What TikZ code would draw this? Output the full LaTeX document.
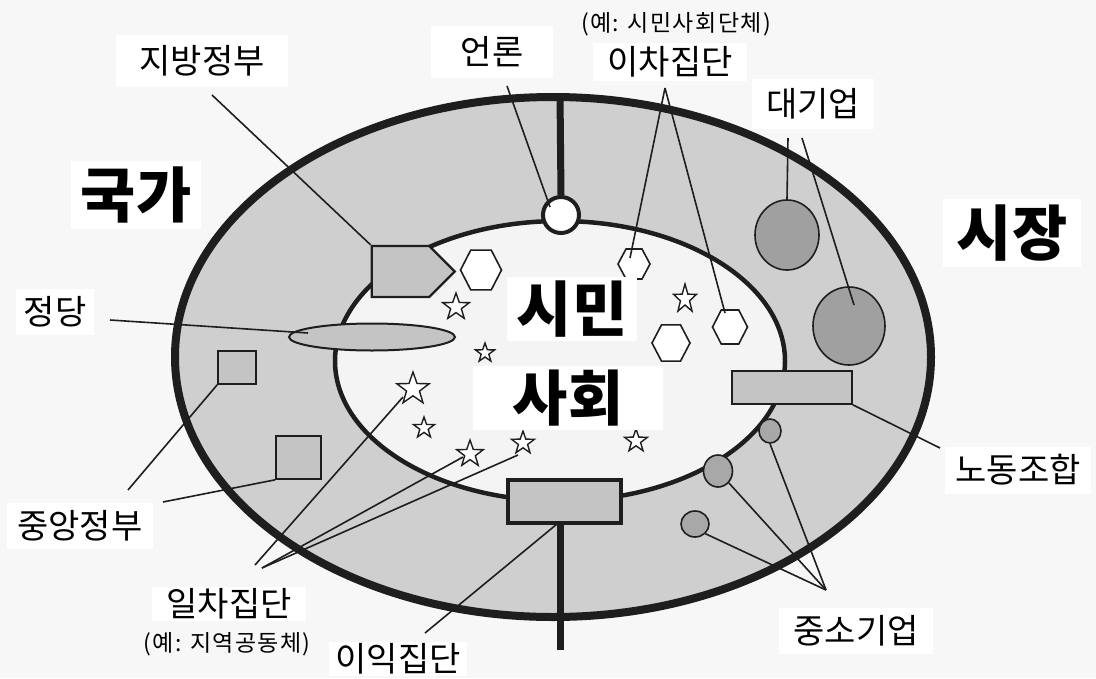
\documentclass[tikz,border=0pt]{standalone}
\usepackage{fontspec}
\newfontfamily\kr{Noto Sans CJK KR}
\newfontfamily\krs{Noto Sans CJK KR}[LetterSpace=6]
\usetikzlibrary{shapes.geometric,shapes.symbols}
\definecolor{bgc}{RGB}{247,247,247}
\definecolor{ringc}{RGB}{207,207,207}
\definecolor{innerc}{RGB}{244,244,244}
\definecolor{shapec}{RGB}{196,196,196}
\definecolor{darkc}{RGB}{160,160,160}
\definecolor{midc}{RGB}{168,168,168}
\definecolor{inkc}{RGB}{30,30,30}
\begin{document}
\begin{tikzpicture}[x=1pt,y=-1pt,
  lbl/.style={fill=white, text=black, font=\kr\fontsize{34}{34}\selectfont, inner xsep=14pt, inner ysep=8pt},
  smalltxt/.style={text=black, font=\krs\fontsize{23}{23}\selectfont, inner sep=1pt},
  biglbl/.style={fill=white, text=black, font=\kr\bfseries\fontsize{60}{60}\selectfont, inner xsep=10pt, inner ysep=6pt},
  conn/.style={line width=1.6pt, draw=inkc},
  hexa/.style={regular polygon, regular polygon sides=6, draw=inkc, line width=1.6pt, fill=white, inner sep=0pt},
  starn/.style={star, star points=5, star point ratio=2.5, draw=inkc, line width=1.4pt, fill=white, inner sep=0pt},
  gshape/.style={draw=inkc, fill=shapec, line width=1.6pt, inner sep=0pt},
  dcirc/.style={circle, draw=inkc, fill=darkc, line width=1.6pt, inner sep=0pt},
  scirc/.style={circle, draw=inkc, fill=midc, line width=1.6pt, inner sep=0pt},
]
\fill[bgc] (0,0) rectangle (1096,678);
\useasboundingbox (0,0) rectangle (1096,678);

% ring and inner area
\fill[ringc] (553,357) ellipse [x radius=378pt, y radius=260pt];
\fill[innerc] (560,361) ellipse [x radius=225pt, y radius=140pt];
\draw[inkc, line width=4.5pt] (560,361) ellipse [x radius=225pt, y radius=140pt];
\draw[inkc, line width=8pt] (553,357) ellipse [x radius=378pt, y radius=260pt];

% vertical thick lines
\coordinate (topend) at (560,94);
\coordinate (botend) at (560,650);
\node[circle, draw=inkc, fill=white, line width=4pt, minimum size=36pt, inner sep=0pt] (eonron) at (561,215) {};
\draw[inkc, line width=7pt] (topend) -- (eonron.north);
\node[gshape, rectangle, line width=4pt, minimum width=113pt, minimum height=43pt] (iik) at (564.5,501.5) {};
\draw[inkc, line width=7pt] (botend |- iik.south) -- (botend);

% state shapes
\node[gshape, signal, signal to=east, minimum width=83pt, minimum height=51pt, line width=2.4pt] (jibang) at (400.5,271.5) {};
\node[gshape, ellipse, minimum width=166pt, minimum height=27pt, line width=2pt] (jeongdang) at (372,337) {};
\node[gshape, rectangle, minimum width=38pt, minimum height=33pt] (sq1) at (237,367.5) {};
\node[gshape, rectangle, minimum width=45pt, minimum height=43pt] (sq2) at (298.5,457.5) {};

% market shapes
\node[dcirc, ellipse, minimum width=64pt, minimum height=70pt] (dae1) at (787,235) {};
\node[dcirc, ellipse, minimum width=72pt, minimum height=78pt] (dae2) at (849,326) {};
\node[gshape, rectangle, minimum width=120pt, minimum height=33pt] (nodong) at (792,387.5) {};
\node[scirc, ellipse, minimum width=22pt, minimum height=24pt] (jc1) at (770,431) {};
\node[scirc, ellipse, minimum width=29pt, minimum height=32pt] (jc2) at (718,471) {};
\node[scirc, ellipse, minimum width=28pt, minimum height=26pt] (jc3) at (695,524) {};

% hexagons
\node[hexa, minimum size=41pt, yscale=1.12] (h1) at (481,270) {};
\node[hexa, minimum size=32pt, yscale=1.08] (h2) at (634,264) {};
\node[hexa, minimum size=38pt, yscale=1.1] (h3) at (671,343) {};
\node[hexa, minimum size=35pt, yscale=1.12] (h4) at (730,327) {};

% stars
\node[starn, minimum size=28pt] (s1) at (456,307) {};
\node[starn, minimum size=20pt] (s2) at (485,353) {};
\node[starn, minimum size=24pt, yscale=1.25] (s3) at (685,299) {};
\node[starn, minimum size=34pt] (s4) at (413,389) {};
\node[starn, minimum size=22pt] (s5) at (424,428) {};
\node[starn, minimum size=28pt] (s6) at (470,454) {};
\node[starn, minimum size=24pt] (s7) at (523,443) {};
\node[starn, minimum size=24pt] (s8) at (636,441) {};

% labels
\node[lbl, inner xsep=23pt, inner ysep=11pt] (Ljibang) at (202,61) {지방정부};
\node[lbl, inner xsep=30pt, inner ysep=11pt] (Leonron) at (492,52) {언론};
\node[smalltxt] (Lex2) at (676,24) {(예: 시민사회단체)};
\node[lbl, inner ysep=4pt] (Licha) at (670,62) {이차집단};
\node[lbl, inner ysep=10pt] (Ldae) at (813,104) {대기업};
\node[biglbl] (Lgukga) at (136,195) {국가};
\node[biglbl, inner xsep=14pt] (Lsijang) at (1012,233) {시장};
\node[lbl, inner xsep=8pt] (Ljeongdang) at (55,312) {정당};
\node[lbl, inner xsep=10pt] (Lnodong) at (1018,470) {노동조합};
\node[lbl, inner xsep=10pt] (Ljungang) at (80,526) {중앙정부};
\node[lbl, inner ysep=2pt] (Lilcha) at (229,604) {일차집단};
\node[lbl, inner xsep=6pt, inner ysep=2pt] (Liik) at (398,659) {이익집단};
\node[smalltxt] (Lex1) at (227,644) {(예: 지역공동체)};
\node[lbl] (Ljungso) at (856,631) {중소기업};
\node[biglbl, inner ysep=4pt] (Lsimin) at (572,309) {시민};
\node[biglbl, inner xsep=40pt, inner ysep=4pt] (Lsahoe) at (568,398) {사회};

% connectors
\coordinate (cJb) at (212,95);
\draw[conn] (cJb) -- (jibang.north west);
\coordinate (cEon) at (507,86);
\coordinate (cEonEnd) at (550,207);
\draw[conn] (cEon) -- (cEonEnd);
\coordinate (cIcha) at (665,88);
\coordinate (cH2) at (630,258);
\coordinate (cH4) at (725,313);
\draw[conn] (cIcha) -- (cH2);
\draw[conn] (cIcha) -- (cH4);
\coordinate (cDae1) at (788,138);
\coordinate (cDae2) at (802,138);
\coordinate (cDae2End) at (854,305);
\draw[conn] (cDae1) -- (dae1.north);
\draw[conn] (cDae2) -- (cDae2End);
\coordinate (cJd) at (110,320);
\coordinate (cJdEnd) at (308,333);
\draw[conn] (cJd) -- (cJdEnd);
\coordinate (cJa1) at (128,490);
\coordinate (cJa2) at (163,502);
\draw[conn] (sq1.south west) -- (cJa1);
\draw[conn] (sq2.south west) -- (cJa2);
\coordinate (cIl1) at (255,565);
\coordinate (cIl2) at (262,568);
\coordinate (cS4) at (403,397);
\coordinate (cS6) at (463,457);
\coordinate (cS7) at (518,455);
\draw[conn] (cIl1) -- (cS4);
\draw[conn] (cIl2) -- (cS6);
\draw[conn] (cIl2) -- (cS7);
\coordinate (cIik) at (557,524);
\coordinate (cIikEnd) at (425,633);
\draw[conn] (cIik) -- (cIikEnd);
\coordinate (cNd) at (940,448);
\draw[conn] (nodong.south east) -- (cNd);
\coordinate (cJs) at (826,590);
\draw[conn] (cJs) -- (jc1.south);
\draw[conn] (cJs) -- (jc2.south east);
\draw[conn] (cJs) -- (jc3.south east);
\end{tikzpicture}
\end{document}
